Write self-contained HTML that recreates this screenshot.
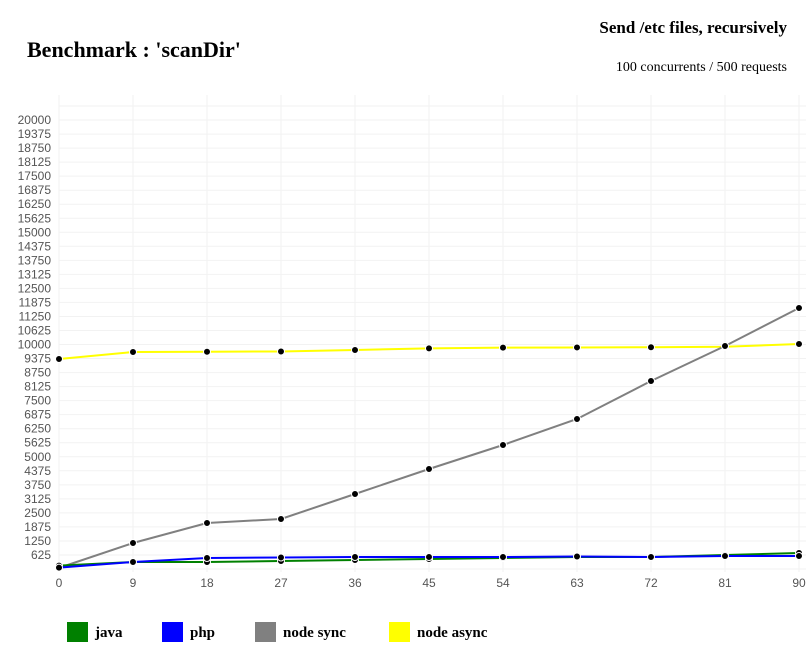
<!DOCTYPE html>
<html><head><meta charset="utf-8"><style>
body{margin:0;background:#fff;width:806px;height:667px;overflow:hidden;font-family:"Liberation Serif",serif}
</style></head><body>
<svg id="c" width="806" height="667">
<text x="27" y="57" font-size="22" font-weight="bold">Benchmark : 'scanDir'</text>
<text x="787" y="33" font-size="17" font-weight="bold" text-anchor="end">Send /etc files, recursively</text>
<text x="787" y="71" font-size="14" text-anchor="end">100 concurrents / 500 requests</text>
<g id="grid"></g><g id="axes"></g><g id="series"></g><g id="legend"></g>
</svg>
<script>
const xValues=[0,9,18,27,36,45,54,63,72,81,90];
const javaValues=[150,310,310,356,400,445,490,535,535,624,713];
const phpValues=[60,310,490,512,535,535,535,557,535,579,579];
const nodeSyncValues=[50,1158,2049,2227,3341,4455,5524,6682,8375,9934,11627];
const nodeAsyncValues=[9355,9667,9680,9690,9756,9830,9860,9870,9880,9900,10023];
const seriesNames=["java","php","node sync","node async"];
const seriesColors=["green","blue","gray","yellow"];
const NS="http://www.w3.org/2000/svg";
const X=v=>59+v/90*740, Y=v=>569-v/625*14.03;
const tickFont='"Liberation Sans Narrow", "Liberation Sans", sans-serif';
function mk(t,a,p){const e=document.createElementNS(NS,t);for(const k in a)e.setAttribute(k,a[k]);p.appendChild(e);return e;}
const grid=document.getElementById('grid'),axes=document.getElementById('axes'),ser=document.getElementById('series'),leg=document.getElementById('legend');
for(let v=0;v<=20625;v+=625){
  const l=mk('line',{x1:59,x2:806,y1:Y(v),y2:Y(v),stroke:'#f2f2f2'},grid);
  
  
  if(v>0&&v<=20000){const t=mk('text',{x:51,y:Y(v)+4,'font-size':12,fill:'#555','text-anchor':'end','font-family':tickFont},axes);t.textContent=v;
  
  }
}
xValues.forEach(v=>{
  const l=mk('line',{x1:X(v),x2:X(v),y1:95,y2:572,stroke:'#f2f2f2'},grid);
  
  
  const t=mk('text',{x:X(v),y:587,'font-size':12,fill:'#555','text-anchor':'middle','font-family':tickFont},axes);t.textContent=v;
  
  
});
const all=[javaValues,phpValues,nodeSyncValues,nodeAsyncValues];
[3,2,0,1].forEach(i=>{
  const d=all[i];
  const p=mk('polyline',{points:d.map((v,j)=>X(xValues[j])+','+Y(v)).join(' '),fill:'none',stroke:seriesColors[i],'stroke-width':2},ser);
  
  
  d.forEach((v,j)=>{const c=mk('circle',{cx:X(xValues[j]),cy:Y(v),r:3.5,fill:'#000',stroke:'#fff','stroke-width':1},ser);
  
  });
});
const lx=[67,162,255,389];
seriesNames.forEach((n,i)=>{
  const g=mk('g',{},leg);
  
  
  mk('rect',{x:lx[i],y:622,width:21,height:20,fill:seriesColors[i]},g);
  const t=mk('text',{x:lx[i]+28,y:637,'font-size':15,'font-weight':'bold'},g);t.textContent=n;
});
</script>
</body></html>
